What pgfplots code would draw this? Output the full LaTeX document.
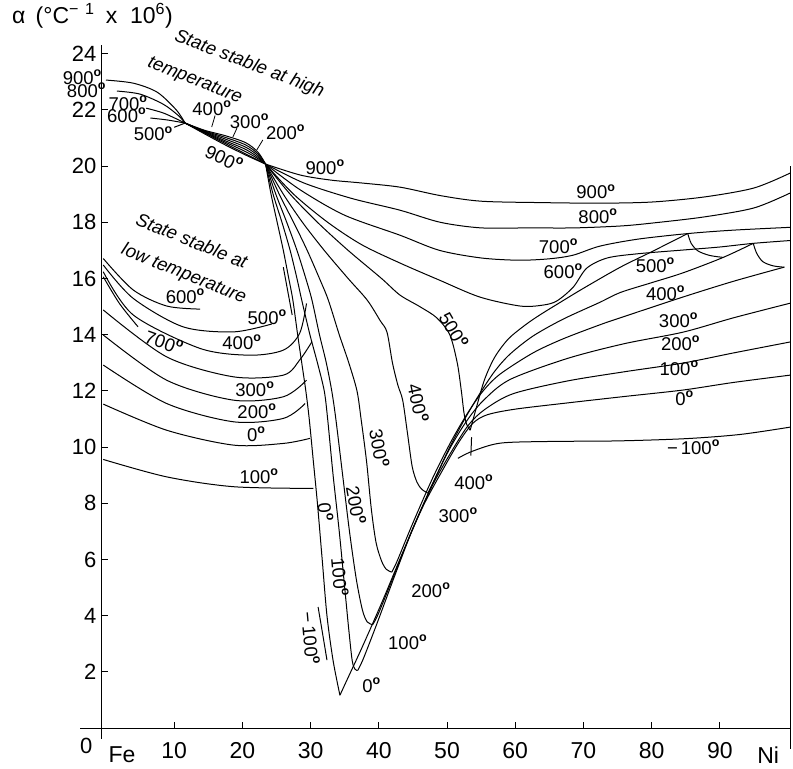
\documentclass[border=0pt]{standalone}
\usepackage{fontspec}
\setmainfont{Liberation Sans}
\usepackage{pgfplots}
\pgfplotsset{compat=1.18}
\newcommand{\lab}{\fontsize{18.5}{18.5}\selectfont}
\newcommand{\ital}{\fontsize{18.5}{18.5}\selectfont\itshape}
\newcommand{\D}{\raisebox{0.42em}{\fontsize{12.5}{12.5}\selectfont\bfseries o}}
\begin{document}
\begin{tikzpicture}
\begin{axis}[
 x=6.82pt, y=28.1pt,
 xmin=-0.6, xmax=100.3, ymin=0, ymax=24.3,
 axis x line*=bottom, axis y line*=left,
 axis line style={black, line width=1pt},
 clip=false,
 xtick={10,20,...,90},
 ytick={2,4,...,24},
 tick align=inside,
 major tick length=6pt,
 tick style={black, line width=0.9pt},
 xticklabel style={font=\fontsize{23}{23}\selectfont, yshift=-11pt},
 yticklabel style={font=\fontsize{22}{22}\selectfont, xshift=-2pt},
 /pgf/number format/assume math mode=true,
 cycle list={{black,solid}},
 every axis plot post/.append style={black, solid, line width=1pt, smooth, mark=none},
]
% ---------- frame extensions ----------
\draw[line width=1pt] (axis cs:-3.8,0) -- (axis cs:-0.6,0);
\draw[line width=1pt] (axis cs:-0.6,0) -- (axis cs:-0.6,-0.4);
\draw[line width=1pt] (axis cs:100.3,20) -- (axis cs:100.3,-0.75);
% ---------- high temperature state, left ----------
\addplot coordinates {(0,23.06)(4,22.95)(7.5,22.63)(10.3,22.0)(11.6,21.53)};
\addplot coordinates {(1.6,22.67)(5,22.56)(8.4,22.2)(10.6,21.8)(11.6,21.53)};
\addplot coordinates {(5.9,22.06)(8.5,21.88)(11.6,21.53)};
\addplot coordinates {(6.5,21.71)(9,21.64)(11.6,21.53)};
\addplot coordinates {(10,21.38)(11.6,21.53)};
% lens
\addplot coordinates {(11.6,21.53)(14.5,21.27)(17.5,21.08)(20.5,20.83)(22.3,20.49)(23.4,20.07)};
\addplot coordinates {(11.6,21.53)(14.5,21.25)(17.5,21.02)(20.5,20.75)(22.3,20.43)(23.4,20.07)};
\addplot coordinates {(11.6,21.53)(14.5,21.23)(17.5,20.96)(20.5,20.67)(22.3,20.37)(23.4,20.07)};
\addplot coordinates {(11.6,21.53)(14.5,21.21)(17.5,20.90)(20.5,20.59)(22.3,20.31)(23.4,20.07)};
\addplot coordinates {(11.6,21.53)(14.5,21.19)(17.5,20.85)(20.5,20.51)(22.3,20.26)(23.4,20.07)};
\addplot coordinates {(11.6,21.53)(14.5,21.17)(17.5,20.80)(20.5,20.43)(22.3,20.21)(23.4,20.07)};
\addplot coordinates {(11.6,21.53)(14.5,21.14)(17.5,20.75)(20.5,20.39)(22.3,20.19)(23.4,20.07)};
% ---------- fan to the right (paramagnetic) ----------
\addplot coordinates {(23.4,20.07)(28.5,19.68)(33,19.5)(37.4,19.4)(43.1,19.25)(49,18.95)(55,18.75)(63.8,18.7)(72.4,18.68)(80,18.72)(87.7,18.9)(95,19.22)(100.3,19.75)};
\addplot coordinates {(23.4,20.07)(29,19.4)(36,18.85)(43.1,18.43)(49,18.0)(55,17.8)(62,17.8)(68.7,17.8)(75.6,17.87)(80.4,17.98)(87.7,18.19)(95,18.51)(100.3,19.04)};
\addplot coordinates {(23.4,20.07)(28.5,19.15)(35,18.25)(43.1,17.54)(48.9,17.0)(55,16.73)(60.5,16.65)(65,16.7)(68.5,16.83)(72.4,17.15)(78,17.4)(85.4,17.6)(92,17.72)(100.3,17.82)};
\addplot coordinates {(23.4,20.07)(27.5,19)(32.5,18)(37.5,17.2)(43.1,16.55)(48.9,15.94)(54.8,15.34)(60.7,15.02)(64,15.05)(66.1,15.2)(68.5,15.69)(70.5,16.37)(73.5,16.73)(78,16.88)(85,17.02)(90,17.12)(94.9,17.25)(100.3,17.35)};
% ---------- Fe side isotherms from P2 down to the valley ----------
\addplot coordinates {(23.4,20.07)(24.2,19)(25.1,18)(26,17)(26.8,16)(27.4,15.23)(28.1,14)(28.7,13)(29.3,12)(29.8,11)(30.4,9.5)(31,8)(31.7,6)(32.4,4)(33.3,2.4)(34.3,1.17)};
\addplot coordinates {(23.4,20.07)(24.5,19)(25.8,18)(27,17)(28,16)(28.7,15.23)(29.9,14)(31,13)(32,12)(32.5,11)(33.3,9)(34.2,7)(35,5)(35.6,3.5)(36.1,2.4)(36.5,2.1)(36.9,2.05)};
\addplot coordinates {(23.4,20.07)(24.9,19)(26.5,18)(28,17)(29.3,16)(30.2,15.23)(31.3,14)(32.3,13)(33.1,12)(33.7,11)(34.7,9)(35.7,7)(36.7,5.3)(37.6,4.2)(38.3,3.78)(39.1,3.68)};
\addplot coordinates {(23.4,20.07)(25.4,19)(27.5,18)(29.5,17)(31.3,16)(32.6,15.23)(34.2,14)(35.6,13)(36.8,12)(37.4,11)(38.2,9.5)(38.9,7.8)(39.6,6.6)(40.4,5.95)(41.1,5.65)(41.9,5.55)};
\addplot coordinates {(23.4,20.07)(26,19)(28.8,18)(32,17)(35.5,16)(38.3,15.23)(40.2,14.5)(41.2,14.09)(42,13)(42.8,12.2)(43.5,11.67)(44.2,10.5)(44.9,9.3)(45.6,8.75)(46.3,8.5)(47.2,8.36)};
\addplot coordinates {(23.4,20.07)(27,19)(31,18)(35.5,17)(40.4,16)(43.1,15.41)(46,15.0)(48.5,14.6)(50.4,14.0)(51.5,13.0)(52.1,12)(52.5,11.2)(52.9,10.8)(53.4,10.6)};
\addplot coordinates {(31.1,4.31)(31.8,3.3)(32.4,2.42)};
\addplot[sharp plot, dash pattern=on 4pt off 3pt] coordinates {(26,16.4)(27.3,14.7)};
% ---------- ferromagnetic branches ----------
\addplot coordinates {(34.3,1.17)(35.5,1.8)(37.6,2.9)(40.5,4.5)(43.6,6.3)(46.5,7.9)(49.4,9.2)(51.8,10.2)(53.8,10.85)(55.9,11.15)(60,11.35)(67.6,11.57)(76,11.8)(84.6,12.03)(92,12.3)(100.3,12.56)};
\addplot coordinates {(36.9,2.05)(37.7,2.45)(39.7,3.7)(42.3,5.4)(45,7.1)(48,8.7)(50.8,9.9)(53.2,10.8)(55.6,11.35)(59.7,11.9)(67.6,12.35)(76,12.68)(84.6,12.99)(92,13.35)(100.3,13.74)};
\addplot coordinates {(39.1,3.68)(39.9,4.05)(42,5.3)(44.8,7.0)(47.7,8.6)(50.3,9.9)(52.8,10.9)(55.3,11.65)(59.2,12.4)(67.6,13.15)(76,13.68)(84.6,14.09)(92,14.6)(100.3,15.12)};
\addplot coordinates {(41.9,5.55)(42.7,5.95)(45,7.3)(47.9,8.9)(50.6,10.2)(53,11.2)(55.3,12.0)(57.8,12.6)(62.6,13.35)(67,13.85)(72.4,14.35)(75.4,14.6)(84.6,15.34)(92,15.9)(99.4,16.4)};
\addplot coordinates {(47.2,8.36)(48,8.75)(50.3,9.95)(52.6,11.0)(54.8,11.9)(57,12.7)(59.2,13.3)(62.6,13.95)(67,14.55)(72.4,15.15)(75.4,15.5)(80,15.85)(84.6,16.2)(90.5,16.75)(94.9,17.25)};
\addplot coordinates {(53.4,10.6)(54.3,11.4)(55.5,12.4)(57,13.2)(59,13.85)(61.5,14.35)(63.6,14.7)(66.6,15.15)(70,15.65)(75.4,16.4)(80,16.95)(85.3,17.6)};
\addplot coordinates {(51.6,9.6)(53.7,9.85)(57.8,10.14)(65,10.2)(75,10.22)(85,10.3)(93,10.45)(100.3,10.71)};
\addplot[sharp plot] coordinates {(53.5,9.7)(53.6,10.35)};
% drops at the Curie points
\addplot coordinates {(85.3,17.6)(85.8,17.25)(86.8,16.98)(88.5,16.82)(90.5,16.75)};
\addplot coordinates {(94.9,17.25)(95.4,16.9)(96.3,16.6)(97.8,16.45)(99.5,16.4)};
% ---------- low temperature state, left ----------
\addplot coordinates {(-0.4,16.71)(4,15.59)(8.9,15.02)(13.8,14.91)};
\addplot coordinates {(-0.4,16.48)(4,15.29)(11.3,14.28)(18.7,14.1)(24.3,14.38)};
\addplot coordinates {(-0.4,16.24)(4,14.7)(13.8,13.51)(21.1,13.27)(26,13.45)(28.4,14.05)(29.4,15.11)};
\addplot coordinates {(-0.4,16.06)(2,15.1)(4.7,14.28)};
\addplot coordinates {(-0.4,14.88)(8.9,13.21)(18.7,12.5)(26,12.56)(28.4,13.1)(30.2,13.75)};
\addplot coordinates {(-0.4,13.99)(8.9,12.38)(18.7,11.67)(26,11.79)(29.4,12.38)};
\addplot coordinates {(-0.4,12.92)(8.9,11.55)(18.7,10.9)(26,11.02)(29.2,11.55)};
\addplot coordinates {(-0.4,11.53)(8.9,10.6)(18.7,10.07)(26,10.13)(29.9,10.31)};
\addplot coordinates {(-0.4,9.56)(8.9,8.94)(18.7,8.59)(30.4,8.53)};
% ---------- leaders ----------
\draw[line width=0.8pt] (axis cs:16,21.8) -- (axis cs:15.5,21.39);
\draw[line width=0.8pt] (axis cs:19.2,21.35) -- (axis cs:18.6,21.03);
\draw[line width=0.8pt] (axis cs:23,20.93) -- (axis cs:22.1,20.57);
% ---------- labels ----------
\node[font=\lab, anchor=east, inner sep=1pt] at (axis cs:-0.5,23.17) {900\D};
\node[font=\lab, anchor=east, inner sep=1pt] at (axis cs:0.1,22.7) {800\D};
\node[font=\lab, inner sep=1pt] at (axis cs:3.2,22.24) {700\D};
\node[font=\lab, inner sep=1pt] at (axis cs:3.0,21.82) {600\D};
\node[font=\lab, inner sep=1pt] at (axis cs:6.9,21.15) {500\D};
\node[font=\lab, inner sep=1pt] at (axis cs:15.5,22.05) {400\D};
\node[font=\lab, inner sep=1pt] at (axis cs:21,21.6) {300\D};
\node[font=\lab, inner sep=1pt] at (axis cs:26.3,21.2) {200\D};
\node[font=\lab, inner sep=1pt, rotate=-25] at (axis cs:17.3,20.28) {900\D};
\node[font=\lab, inner sep=1pt] at (axis cs:32.1,19.95) {900\D};
\node[font=\ital, inner sep=0pt, rotate=-21] at (axis cs:21.0,23.62) {State stable at high};
\node[font=\ital, inner sep=0pt, rotate=-22] at (axis cs:13.0,23.02) {temperature};
\node[font=\ital, inner sep=0pt, rotate=-22] at (axis cs:12.6,17.35) {State stable at};
\node[font=\ital, inner sep=0pt, rotate=-22] at (axis cs:11.4,16.15) {low temperature};
% left region
\node[font=\lab, inner sep=1pt] at (axis cs:11.6,15.36) {600\D};
\node[font=\lab, inner sep=1pt] at (axis cs:23.6,14.62) {500\D};
\node[font=\lab, inner sep=1pt] at (axis cs:19.9,13.72) {400\D};
\node[font=\lab, inner sep=1pt, rotate=-20] at (axis cs:8.5,13.74) {700\D};
\node[font=\lab, inner sep=1pt] at (axis cs:21.8,12.05) {300\D};
\node[font=\lab, inner sep=1pt] at (axis cs:22.1,11.27) {200\D};
\node[font=\lab, inner sep=1pt] at (axis cs:22,10.45) {0\D};
\node[font=\lab, inner sep=1pt] at (axis cs:22.4,8.95) {100\D};
% valley region
\node[font=\lab, inner sep=1pt, rotate=-85] at (axis cs:32.2,7.69) {0\D};
\node[font=\lab, inner sep=1pt, rotate=-85] at (axis cs:34.3,5.37) {100\D};
\node[font=\lab, inner sep=1pt, rotate=-80] at (axis cs:36.7,7.94) {200\D};
\node[font=\lab, inner sep=1pt, rotate=-80] at (axis cs:40.1,9.96) {300\D};
\node[font=\lab, inner sep=1pt, rotate=-78] at (axis cs:45.8,11.57) {400\D};
\node[font=\lab, inner sep=1pt, rotate=-60] at (axis cs:51.0,14.16) {500\D};
\node[font=\lab, inner sep=1pt, rotate=-85] at (axis cs:30.0,3.2) {−\,100\D};
\node[font=\lab, inner sep=1pt] at (axis cs:53.9,8.75) {400\D};
\node[font=\lab, inner sep=1pt] at (axis cs:51.6,7.58) {300\D};
\node[font=\lab, inner sep=1pt] at (axis cs:47.6,4.91) {200\D};
\node[font=\lab, inner sep=1pt] at (axis cs:44.2,3.06) {100\D};
\node[font=\lab, inner sep=1pt] at (axis cs:38.9,1.53) {0\D};
% right region
\node[font=\lab, inner sep=1pt] at (axis cs:71.8,19.09) {900\D};
\node[font=\lab, inner sep=1pt] at (axis cs:72.1,18.21) {800\D};
\node[font=\lab, inner sep=1pt] at (axis cs:66.3,17.14) {700\D};
\node[font=\lab, inner sep=1pt] at (axis cs:67,16.25) {600\D};
\node[font=\lab, inner sep=1pt] at (axis cs:80.5,16.48) {500\D};
\node[font=\lab, inner sep=1pt] at (axis cs:82,15.48) {400\D};
\node[font=\lab, inner sep=1pt] at (axis cs:83.9,14.52) {300\D};
\node[font=\lab, inner sep=1pt] at (axis cs:84.2,13.7) {200\D};
\node[font=\lab, inner sep=1pt] at (axis cs:84,12.81) {100\D};
\node[font=\lab, inner sep=1pt] at (axis cs:84.8,11.74) {0\D};
\node[font=\lab, inner sep=1pt] at (axis cs:86.1,10.0) {−\,100\D};
% axis texts
\node[font=\fontsize{22}{22}\selectfont] at (axis cs:-2.9,-0.64) {0};
\node[font=\fontsize{23}{23}\selectfont] at (axis cs:2.35,-0.96) {Fe};
\node[font=\fontsize{23}{23}\selectfont] at (axis cs:97.1,-0.96) {Ni};
\node[font=\fontsize{23}{23}\selectfont, anchor=west, inner sep=0pt] at (axis cs:-13.8,25.35) {α\hspace{0.45em}(°C\textsuperscript{−\hspace{0.4em}1}\hspace{0.5em}x\hspace{0.55em}10\textsuperscript{6})};
\coordinate (BL) at (axis cs:-15.54,-1.42);
\coordinate (TR) at (axis cs:100.73,25.91);
\end{axis}
\pgfresetboundingbox
\path[use as bounding box] (BL) rectangle (TR);
\end{tikzpicture}
\end{document}
